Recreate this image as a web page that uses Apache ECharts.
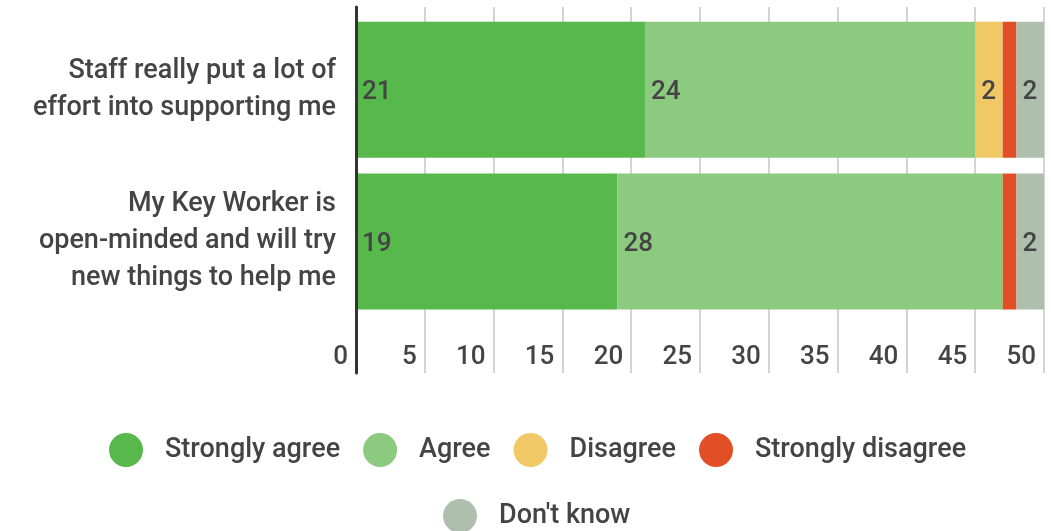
<!DOCTYPE html>
<html>
<head>
<meta charset="utf-8">
<script src="https://cdn.jsdelivr.net/npm/echarts@6/dist/echarts.min.js"></script>
<style>
  html, body { margin: 0; padding: 0; background: #fff; }
  #chart { width: 1051px; height: 531px; }
</style>
</head>
<body>
<div id="chart"></div>
<script>
// Survey statements (wrapped as displayed)
const statements = [
  'Staff really put a lot of\neffort into supporting me',
  'My Key Worker is\nopen-minded and will try\nnew things to help me'
];

// Response counts per statement
const stronglyAgree    = [21, 19];
const agree            = [24, 28];
const disagree         = [2, 0];
const stronglyDisagree = [1, 1];
const dontKnow         = [2, 2];

const responseNames  = ['Strongly agree', 'Agree', 'Disagree', 'Strongly disagree', "Don't know"];
const responseColors = ['#57b84b', '#8cca80', '#f1c866', '#e24e25', '#aebfae'];
const responseValues = [stronglyAgree, agree, disagree, stronglyDisagree, dontKnow];
const showValueLabel = [true, true, true, false, true];

const xTicks = { min: 0, max: 50, interval: 5 };

const FONT = 'Roboto';
const WEIGHT = 500;
const TEXT = '#444444';

const series = responseNames.map((name, i) => ({
  name,
  type: 'bar',
  stack: 'total',
  xAxisIndex: 1,
  yAxisIndex: 1,
  barCategoryGap: '10.4%',
  itemStyle: { color: responseColors[i] },
  data: responseValues[i].map(v => (v === 0 ? null : v)),
  label: {
    show: showValueLabel[i],
    position: 'insideLeft',
    distance: 6,
    offset: [0, 3],
    color: TEXT,
    fontFamily: FONT,
    fontWeight: WEIGHT,
    fontSize: 26,
    formatter: p => (p.value ? String(p.value) : '')
  },
  emphasis: { disabled: true }
}));

const legendText = { color: TEXT, fontFamily: FONT, fontWeight: WEIGHT, fontSize: 27, padding: [0, 0, 0, 17] };

const option = {
  animation: false,
  backgroundColor: '#ffffff',
  grid: [
    // frame: vertical gridlines, tick labels and the dark baseline
    { left: 356, right: 7, top: 7, bottom: 158 },
    // bars
    { left: 356, right: 7, top: 13.8, bottom: 213.6 }
  ],
  xAxis: [
    {
      gridIndex: 0,
      type: 'value',
      min: xTicks.min, max: xTicks.max, interval: xTicks.interval,
      axisLine: { show: false },
      axisTick: { show: false },
      splitLine: { show: true, lineStyle: { color: '#d4d4d4', width: 2 } },
      axisLabel: {
        inside: true,
        margin: 3,
        align: 'right',
        padding: [0, 8, 0, 0],
        color: TEXT,
        fontFamily: FONT,
        fontWeight: WEIGHT,
        fontSize: 26
      }
    },
    {
      gridIndex: 1,
      type: 'value',
      min: xTicks.min, max: xTicks.max, interval: xTicks.interval,
      show: false
    }
  ],
  yAxis: [
    {
      gridIndex: 0,
      type: 'value',
      min: 0, max: 1,
      axisLabel: { show: false },
      axisTick: { show: false },
      splitLine: { show: false },
      axisLine: { show: true, lineStyle: { color: '#333333', width: 3 } },
      z: 10
    },
    {
      gridIndex: 1,
      type: 'category',
      inverse: true,
      data: statements,
      axisLine: { show: false },
      axisTick: { show: false },
      axisLabel: {
        margin: 20,
        align: 'right',
        padding: [10, 0, 0, 0],
        color: TEXT,
        fontFamily: FONT,
        fontWeight: WEIGHT,
        fontSize: 27,
        lineHeight: 37
      }
    }
  ],
  legend: [
    {
      data: responseNames.slice(0, 4),
      left: 104,
      top: 428,
      icon: 'circle',
      itemWidth: 34,
      itemHeight: 34,
      itemGap: 23,
      selectedMode: false,
      textStyle: legendText
    },
    {
      data: responseNames.slice(4),
      left: 438,
      top: 494,
      icon: 'circle',
      itemWidth: 34,
      itemHeight: 34,
      selectedMode: false,
      textStyle: legendText
    }
  ],
  series
};

const chart = echarts.init(document.getElementById('chart'), null, { renderer: 'canvas' });
chart.setOption(option);
</script>
</body>
</html>
